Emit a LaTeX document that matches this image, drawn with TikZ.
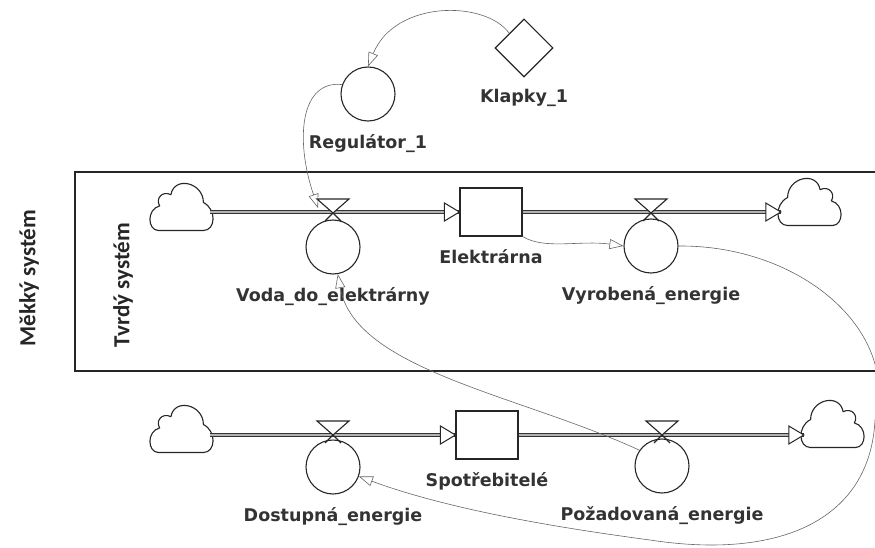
\documentclass[tikz,border=0pt]{standalone}
\usepackage{fontspec}
\setmainfont{DejaVu Sans}
\newfontfamily\sidefont{Carlito}
\usetikzlibrary{positioning,shapes.geometric,arrows.meta}

\tikzset{
  aux/.style={draw=black!85, line width=1.1pt, circle, minimum size=54pt, inner sep=0pt},
  stock/.style={draw=black!85, line width=1.1pt, rectangle, minimum width=62pt, minimum height=48pt, inner sep=0pt},
  konst/.style={draw=black!85, line width=1.1pt, diamond, minimum size=58pt, inner sep=0pt},
  pipe/.style={draw=black!80, line width=0.8pt, double=black!30, double distance=2.2pt},
  flowtip/.style={draw=black!85, line width=1pt, fill=white},
  link/.style={draw=black!60, line width=0.6pt, -{Triangle[open,length=14pt,width=10pt]}},
  lbl/.style={font=\bfseries\fontsize{17.5}{19}\selectfont, text=black!80, inner sep=1pt},
  side/.style={font=\sidefont\bfseries\fontsize{23}{25}\selectfont, text=black!85, rotate=90},
  cloudpic/.pic={
    \node[minimum width=58pt, minimum height=46pt, inner sep=0pt] (-c) at (0,0) {};
    \draw[scale=1.12, line width=1.1pt, draw=black!85, fill=white, line join=round]
      (-20,21) -- (20,21) .. controls (31,21) and (32,2) .. (20,-4)
      .. controls (20,-22) and (-6,-28) .. (-9,-11)
      .. controls (-17,-15) and (-23,-7) .. (-19,-1)
      .. controls (-31,2) and (-30,21) .. (-20,21) -- cycle;
  },
  valve/.pic={
    \draw[line width=1.1pt, draw=black!85, fill=white] (-16,-14) -- (16,-14) -- (0,0) -- cycle;
    \draw[line width=1.1pt, draw=black!85] (0,0) -- (8,8) (0,0) -- (-8,8);
    \coordinate (-in) at (-15,-5);
  }
}

\begin{document}
\begin{tikzpicture}[x=1pt, y=-1pt]
    \clip (0,0) rectangle (875,548);

    % systems
    \draw[line width=1.6pt, black!85] (75,172) rectangle (895,371);
    \node[side] (mekky) at (29,278) {Měkký systém};
    \node[side] (tvrdy) at (123,285) {Tvrdý systém};

    % top: regulator and constant
    \node[aux] (reg) at (368,94) {};
    \node[konst] (klapky) at (524,48) {};
    \node[lbl, below=12pt of reg] (regL) {Regulátor\_1};
    \node[lbl, below=10pt of klapky] (klapkyL) {Klapky\_1};

    % hard system chain
    \pic (srcA) at (181,207) {cloudpic};
    \node[stock] (elek) at (491,212) {};
    \pic[xscale=-1] (sinkA) at (810,202) {cloudpic};
    \draw[pipe] (srcA-c.east |- elek.west) -- (elek.west);
    \draw[pipe] (elek.east) -- (sinkA-c.west |- elek.east);
    \draw[flowtip] (elek.west) -- ++(-15,-9) -- ++(0,18) -- cycle;
    \draw[flowtip] (sinkA-c.west |- elek.east) -- ++(-15,-9) -- ++(0,18) -- cycle;
    \pic (vA) at (333,213) {valve};
    \pic (vB) at (651,213) {valve};
    \node[aux] (voda) at (333,247) {};
    \node[aux] (vyr) at (651,246) {};
    \node[lbl, below=12pt of voda] (vodaL) {Voda\_do\_elektrárny};
    \node[lbl, below=12pt of elek] (elekL) {Elektrárna};
    \node[lbl, below=12pt of vyr] (vyrL) {Vyrobená\_energie};

    % consumers chain
    \pic (srcB) at (181,429) {cloudpic};
    \node[stock] (spot) at (487,435) {};
    \pic[xscale=-1] (sinkB) at (833,424) {cloudpic};
    \draw[pipe] (srcB-c.east |- spot.west) -- (spot.west);
    \draw[pipe] (spot.east) -- (sinkB-c.west |- spot.east);
    \draw[flowtip] (spot.west) -- ++(-15,-9) -- ++(0,18) -- cycle;
    \draw[flowtip] (sinkB-c.west |- spot.east) -- ++(-15,-9) -- ++(0,18) -- cycle;
    \pic (vC) at (333,435) {valve};
    \pic (vD) at (662,435) {valve};
    \node[aux] (dost) at (333,467) {};
    \node[aux] (poz) at (662,466) {};
    \node[lbl, below=12pt of dost] (dostL) {Dostupná\_energie};
    \node[lbl, below=12pt of spot] (spotL) {Spotřebitelé};
    \node[lbl, below=12pt of poz] (pozL) {Požadovaná\_energie};

    % links
    \draw[link] (klapky.north west) .. controls (485,0) and (395,0) .. (reg.north);
    \draw[link] (reg.160) .. controls (300,80) and (295,140) .. (vA-in);
    \draw[link] (elek.south east) .. controls (545,250) and (580,240) .. (vyr.west);
    \draw[link] (vyr.east) .. controls (800,245) and (900,330) .. (875,420)
        .. controls (870,520) and (780,560) .. (650,540)
        .. controls (560,528) and (450,510) .. (dost.-20);
    \draw[link] (poz.145) .. controls (520,395) and (355,370) .. (voda.-80);
\end{tikzpicture}
\end{document}
